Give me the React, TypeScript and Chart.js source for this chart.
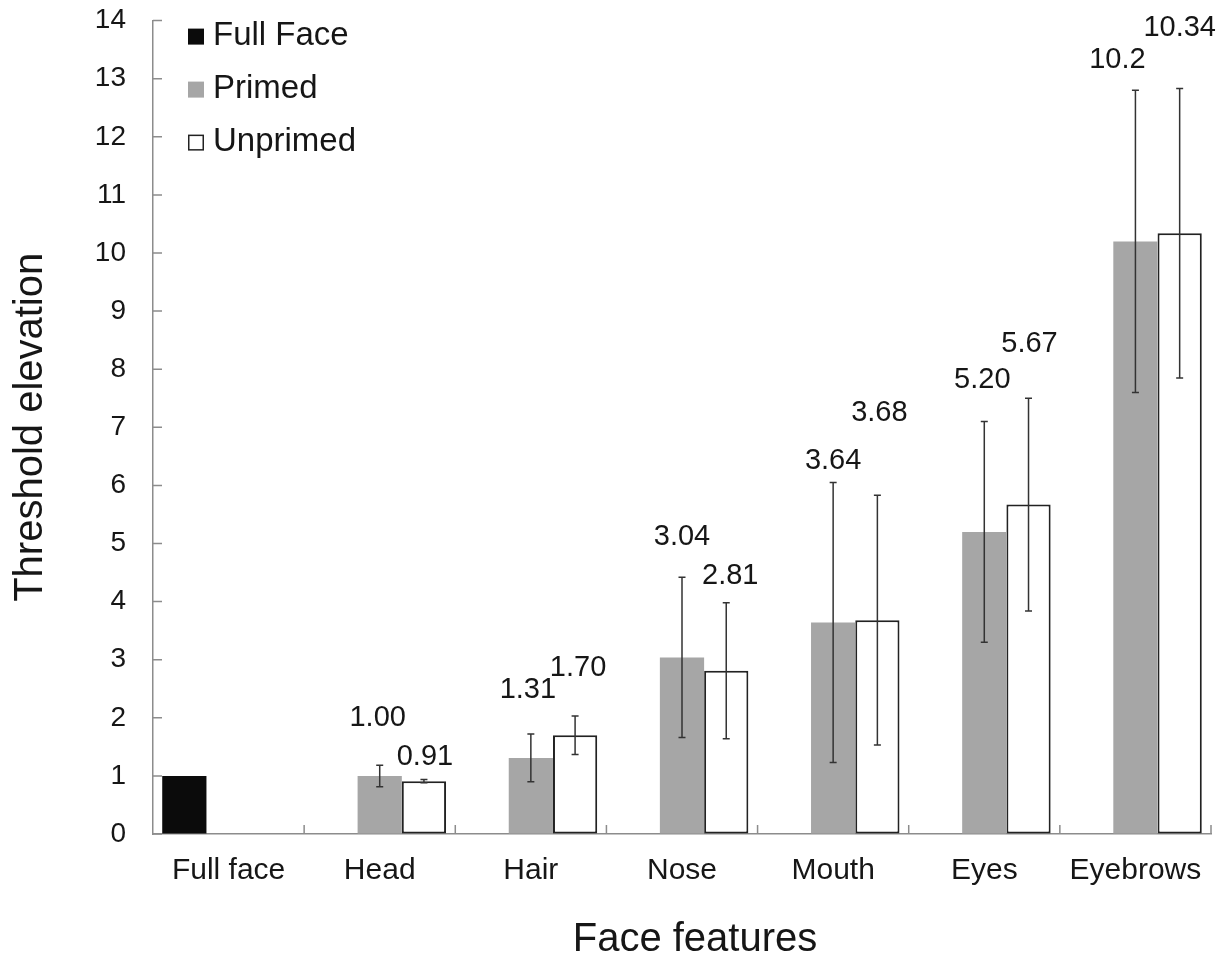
import React, { useEffect, useRef } from "react";
import { Chart, registerables } from "chart.js";

Chart.register(...registerables);

const categories = ["Full face", "Head", "Hair", "Nose", "Mouth", "Eyes", "Eyebrows"];
const fullFaceValues = [1, null, null, null, null, null, null];
const primedValues = [null, 1.0, 1.31, 3.04, 3.64, 5.2, 10.2];
const unprimedValues = [null, 0.91, 1.7, 2.81, 3.68, 5.67, 10.34];
const primedErrors = [null, 0.185, 0.41, 1.38, 2.41, 1.9, 2.6];
const unprimedErrors = [null, 0.03, 0.33, 1.17, 2.15, 1.83, 2.49];
const primedLabels = ["", "1.00", "1.31", "3.04", "3.64", "5.20", "10.2"];
const unprimedLabels = ["", "0.91", "1.70", "2.81", "3.68", "5.67", "10.34"];
const legendNames = ["Full Face", "Primed", "Unprimed"];
const xTitle = "Face features";
const yTitle = "Threshold elevation";
const yMax = 14;

// annotation placement (pixels above the error-bar top, horizontal nudge)
const primedLift = [0, 47, 44, 40, 21, 41, 30];
const unprimedLift = [0, 22, 48, 27, 82, 54, 61];
const primedDx = [0, -2, -3, 0, 0, -2, -18];
const unprimedDx = [0, 1, 3, 4, 2, 1, 0];

const FONT = '"Liberation Sans", Arial, Helvetica, sans-serif';
const TEXT = "#161616";
const AXIS = "#8c8c8c";
const BLACK = "#0b0b0b";
const GRAY = "#a6a6a6";
const EDGE = "#222222";

const overlayPlugin = {
  id: "overlay",
  afterDatasetsDraw(chart: any) {
    const ctx = chart.ctx;
    const yScale = chart.scales.y;
    const sets = [
      { idx: 1, vals: primedValues, errs: primedErrors, labels: primedLabels, lift: primedLift, dx: primedDx },
      { idx: 2, vals: unprimedValues, errs: unprimedErrors, labels: unprimedLabels, lift: unprimedLift, dx: unprimedDx },
    ];
    ctx.save();
    for (const s of sets) {
      const meta = chart.getDatasetMeta(s.idx);
      meta.data.forEach((el: any, i: number) => {
        const v = s.vals[i];
        const e = s.errs[i];
        if (v == null || e == null) return;
        const x = el.x;
        const yT = yScale.getPixelForValue(v + e);
        const yB = yScale.getPixelForValue(v - e);
        ctx.strokeStyle = "#333333";
        ctx.lineWidth = 1.5;
        ctx.beginPath();
        ctx.moveTo(x, yT);
        ctx.lineTo(x, yB);
        ctx.moveTo(x - 3.5, yT);
        ctx.lineTo(x + 3.5, yT);
        ctx.moveTo(x - 3.5, yB);
        ctx.lineTo(x + 3.5, yB);
        ctx.stroke();
        ctx.fillStyle = TEXT;
        ctx.font = `29px ${FONT}`;
        ctx.textAlign = "center";
        ctx.textBaseline = "middle";
        ctx.fillText(s.labels[i], x + s.dx[i], yT - s.lift[i]);
      });
    }
    ctx.restore();
  },
  afterDraw(chart: any) {
    const ctx = chart.ctx;
    const { left, right, bottom, top } = chart.chartArea;
    const xs = chart.scales.x;
    const ys = chart.scales.y;
    ctx.save();
    ctx.strokeStyle = AXIS;
    ctx.lineWidth = 1.5;
    ctx.beginPath();
    // y ticks pointing inward
    for (let v = 0; v <= yMax; v++) {
      const y = ys.getPixelForValue(v);
      ctx.moveTo(left, y);
      ctx.lineTo(left + 9, y);
    }
    // x ticks at category boundaries, pointing inward
    const n = categories.length;
    for (let i = 1; i <= n; i++) {
      const x = i < n ? (xs.getPixelForTick(i - 1) + xs.getPixelForTick(i)) / 2 : right;
      ctx.moveTo(x, bottom);
      ctx.lineTo(x, bottom - 9);
    }
    ctx.stroke();

    // axis titles
    ctx.fillStyle = TEXT;
    ctx.font = `40px ${FONT}`;
    ctx.textAlign = "center";
    ctx.textBaseline = "alphabetic";
    ctx.fillText(xTitle, 695, 951);
    ctx.save();
    ctx.translate(42, (top + bottom) / 2);
    ctx.rotate(-Math.PI / 2);
    ctx.fillText(yTitle, 0, 0);
    ctx.restore();

    // legend
    const fills = [BLACK, GRAY, "#ffffff"];
    const lx = left + 35;
    for (let k = 0; k < legendNames.length; k++) {
      const cy = top + 16 + k * 53;
      ctx.fillStyle = fills[k];
      ctx.fillRect(lx, cy - 8, 16, 16);
      if (k === 2) {
        ctx.strokeStyle = EDGE;
        ctx.lineWidth = 1.5;
        ctx.strokeRect(lx + 0.75, cy - 7.25, 14.5, 14.5);
      }
      ctx.fillStyle = TEXT;
      ctx.font = `33px ${FONT}`;
      ctx.textAlign = "left";
      ctx.textBaseline = "middle";
      ctx.fillText(legendNames[k], lx + 25, cy - 1);
    }
    ctx.restore();
  },
};

export default function App() {
  const ref = useRef<HTMLCanvasElement | null>(null);
  useEffect(() => {
    if (!ref.current) return;
    const chart = new Chart(ref.current, {
      type: "bar",
      data: {
        labels: categories,
        datasets: [
          {
            label: legendNames[0],
            data: fullFaceValues,
            backgroundColor: BLACK,
            borderWidth: 0,
          },
          {
            label: legendNames[1],
            data: primedValues,
            backgroundColor: GRAY,
            borderWidth: 0,
          },
          {
            label: legendNames[2],
            data: unprimedValues,
            backgroundColor: "#ffffff",
            borderColor: EDGE,
            borderWidth: 2,
            borderSkipped: false,
          },
        ],
      } as any,
      options: {
        responsive: false,
        animation: false,
        devicePixelRatio: 1,
        datasets: { bar: { categoryPercentage: 0.878, barPercentage: 1 } },
        layout: { padding: { left: 0, right: 16, top: 20.6, bottom: 0 } },
        plugins: { legend: { display: false }, tooltip: { enabled: false } },
        scales: {
          x: {
            grid: { display: true, drawOnChartArea: false, drawTicks: false },
            border: { display: true, color: AXIS, width: 1.5 },
            ticks: { color: TEXT, font: { family: FONT, size: 30 }, padding: 19, maxRotation: 0 },
            afterFit: (s: any) => {
              s.height = 122;
              s.paddingLeft = 0;
              s.paddingRight = 0;
            },
          },
          y: {
            min: 0,
            max: yMax,
            ticks: { stepSize: 1, color: TEXT, font: { family: FONT, size: 28 }, padding: 27 },
            grid: { display: true, drawOnChartArea: false, drawTicks: false },
            border: { display: true, color: AXIS, width: 1.5 },
            afterFit: (s: any) => {
              s.width = 153;
              s.paddingTop = 0;
              s.paddingBottom = 0;
            },
          },
        },
      } as any,
      plugins: [overlayPlugin],
    });
    return () => chart.destroy();
  }, []);
  return (
    <div style={{ position: "absolute", left: 0, top: 0, width: 1227, height: 956, background: "#fff" }}>
      <canvas ref={ref} width={1227} height={956} style={{ width: 1227, height: 956, display: "block" }} />
    </div>
  );
}
